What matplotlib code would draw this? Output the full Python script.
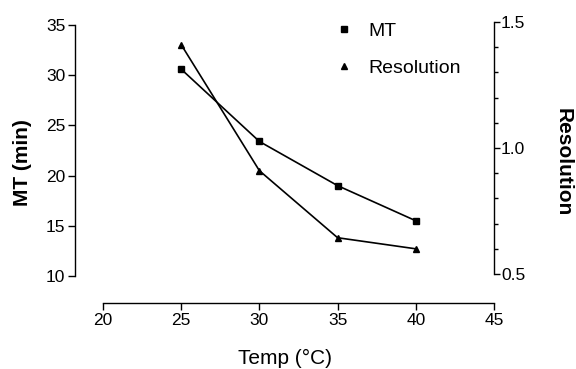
import matplotlib
matplotlib.use("Agg")
import matplotlib.pyplot as plt
from matplotlib.ticker import FixedLocator

temp = [25, 30, 35, 40]
mt = [30.6, 23.4, 19.0, 15.5]
resolution = [1.41, 0.91, 0.644, 0.60]

x_ticks = [20, 25, 30, 35, 40, 45]
y_ticks = [10, 15, 20, 25, 30, 35]
r_ticks = [0.5, 1.0, 1.5]
r_minor = [0.6, 0.7, 0.8, 0.9, 1.1, 1.2, 1.3, 1.4]

plt.rcParams['font.family'] = ['Liberation Sans', 'DejaVu Sans']

fig = plt.figure(figsize=(5.76, 3.69), dpi=100)
W, H = 576, 369
L, R, T, B = 75, 494, 22, 303
ax = fig.add_axes([L / W, 1 - B / H, (R - L) / W, (B - T) / H])
ax2 = ax.twinx()

ax.set_xlim(18.21, 45)
ax.set_ylim(7.31, 35.3)
ax2.set_ylim(0.385, 1.5)

l1, = ax.plot(temp, mt, color='black', lw=1.2, marker='s', ms=4.5, label='MT')
l2, = ax2.plot(temp, resolution, color='black', lw=1.2, marker='^', ms=5, label='Resolution')

for a in (ax, ax2):
    a.spines['top'].set_visible(False)
ax.spines['right'].set_visible(False)
ax2.spines['left'].set_visible(False)
ax2.spines['bottom'].set_visible(False)
ax.spines['left'].set_bounds(10, 35)
ax.spines['bottom'].set_bounds(20, 45)
ax2.spines['right'].set_bounds(0.5, 1.5)
for a in (ax, ax2):
    for s in a.spines.values():
        s.set_linewidth(1.0)

ax.set_xticks(x_ticks)
ax.set_yticks(y_ticks)
ax2.set_yticks(r_ticks)
ax2.set_yticklabels(['0.5', '1.0', '1.5'])
ax2.yaxis.set_minor_locator(FixedLocator(r_minor))

ax.tick_params(axis='both', direction='out', length=5, width=1, labelsize=12.5, pad=2)
ax2.tick_params(axis='y', which='major', direction='out', length=4, width=1, labelsize=12.5, pad=1)
ax2.tick_params(axis='y', which='minor', direction='out', length=3, width=1)

ax.set_xlabel('Temp (°C)', fontsize=15, labelpad=15)
ax.set_ylabel('MT (min)', fontsize=15, fontweight='bold', labelpad=10)
ax2.set_ylabel('Resolution', fontsize=15, fontweight='bold', rotation=270, labelpad=34)

fig.legend(handles=[l1, l2], loc='upper left', bbox_to_anchor=(334 / W, 1 - 22 / H),
           frameon=False, fontsize=14, handlelength=1.0, handletextpad=0.75,
           labelspacing=1.0, borderaxespad=0, borderpad=0)
for h in fig.legends[0].legend_handles:
    h.set_linestyle('none')

fig.savefig('out.png', dpi=100)
